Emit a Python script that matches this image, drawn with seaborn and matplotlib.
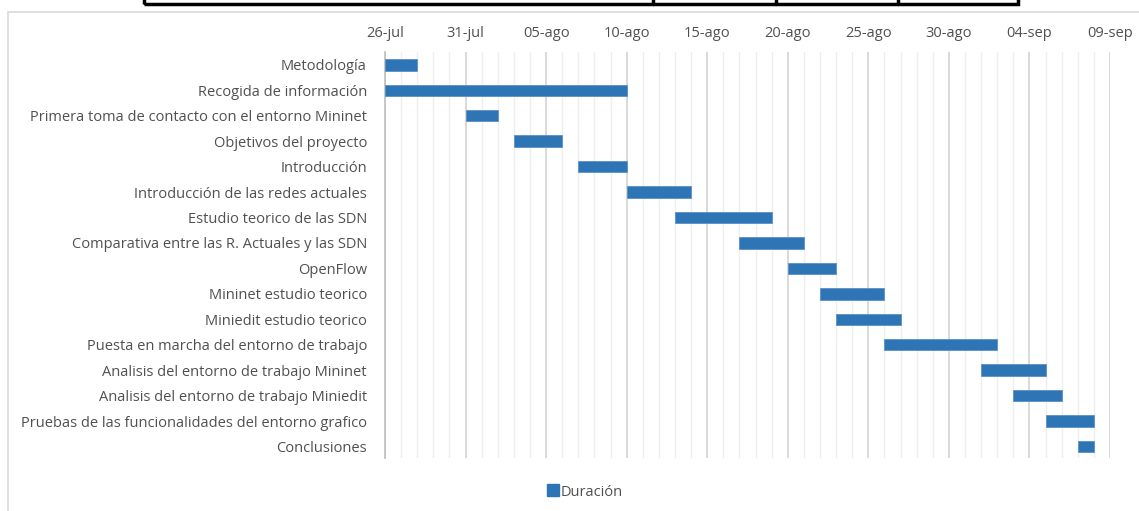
import datetime as dt
import matplotlib
matplotlib.use("Agg")
import matplotlib.pyplot as plt
import matplotlib.dates as mdates
from matplotlib.patches import Rectangle
from matplotlib.lines import Line2D
import pandas as pd
import seaborn as sns

# Project tasks, start dates and durations (days)
tasks = [
    "Metodología",
    "Recogida de información",
    "Primera toma de contacto con el entorno Mininet",
    "Objetivos del proyecto",
    "Introducción",
    "Introducción de las redes actuales",
    "Estudio teorico de las SDN",
    "Comparativa entre las R. Actuales y las SDN",
    "OpenFlow",
    "Mininet estudio teorico",
    "Miniedit estudio teorico",
    "Puesta en marcha del entorno de trabajo",
    "Analisis del entorno de trabajo Mininet",
    "Analisis del entorno de trabajo Miniedit",
    "Pruebas de las funcionalidades del entorno grafico",
    "Conclusiones",
]
start_dates = [
    "2016-07-26", "2016-07-26", "2016-07-31", "2016-08-03",
    "2016-08-07", "2016-08-10", "2016-08-13", "2016-08-17",
    "2016-08-20", "2016-08-22", "2016-08-23", "2016-08-26",
    "2016-09-01", "2016-09-03", "2016-09-05", "2016-09-07",
]
durations = [2, 15, 2, 3, 3, 4, 6, 4, 3, 4, 4, 7, 4, 3, 3, 1]

tick_dates = ["2016-07-26", "2016-07-31", "2016-08-05", "2016-08-10",
              "2016-08-15", "2016-08-20", "2016-08-25", "2016-08-30",
              "2016-09-04", "2016-09-09"]
tick_labels = ["26-jul", "31-jul", "05-ago", "10-ago", "15-ago",
               "20-ago", "25-ago", "30-ago", "04-sep", "09-sep"]
series_name = "Duración"

df = pd.DataFrame({"task": tasks,
                   "start": pd.to_datetime(start_dates),
                   "dur": durations})

sns.set_theme(style="white")
plt.rcParams["font.family"] = ["Open Sans", "DejaVu Sans"]

BAR = "#2e75b6"
TXT = "#505050"
FS = 10.5

fig = plt.figure(figsize=(11.39, 5.11), dpi=100)
ax = fig.add_axes([0.338, 0.1037, 0.6365, 0.7943])

ax.barh(df["task"], df["dur"], left=mdates.date2num(df["start"]),
        height=0.45, color=BAR, edgecolor="#5b8fc9", linewidth=0.6, zorder=3)

x0 = mdates.date2num(pd.Timestamp(tick_dates[0]))
x1 = mdates.date2num(pd.Timestamp(tick_dates[-1]))
ax.set_xlim(x0, x1)
ax.set_ylim(len(tasks) - 0.55, -0.5)

# daily minor grid, 5-day major grid
for d in range(int(x1 - x0) + 1):
    major = d % 5 == 0
    ax.axvline(x0 + d, color="#d9d9d9" if major else "#efefef",
               lw=1.4 if major else 1.0, zorder=1)

ax.set_xticks([mdates.date2num(pd.Timestamp(t)) for t in tick_dates])
ax.set_xticklabels(tick_labels)
ax.xaxis.tick_top()
ax.tick_params(axis="x", length=0, pad=8, labelsize=FS, labelcolor=TXT)
ax.tick_params(axis="y", length=0, pad=13, labelsize=FS, labelcolor=TXT)

for side in ["top", "right", "bottom"]:
    ax.spines[side].set_visible(False)
ax.spines["left"].set_color("#bfbfbf")
ax.spines["left"].set_linewidth(1.2)

handle = Line2D([], [], marker="s", ls="none", color=BAR, markersize=8)
fig.legend([handle], [series_name], loc="center", bbox_to_anchor=(585 / 1139, 1 - 492 / 511),
           frameon=False, handletextpad=0.1, fontsize=FS, labelcolor=TXT,
           handlelength=0.8)

# chart area border
fig.add_artist(Rectangle((8 / 1139, -0.02), 1.1, 1 - 12 / 511 + 0.02,
                         transform=fig.transFigure, fill=False,
                         edgecolor="#d9d9d9", lw=1.2))
# table frame above the chart
fig.add_artist(Rectangle((144 / 1139, 1 - 4 / 511), (1018 - 144) / 1139, 0.1,
                         transform=fig.transFigure, fill=False,
                         edgecolor="black", lw=2.5))
for xv in [653, 776, 898]:
    fig.add_artist(Line2D([xv / 1139, xv / 1139], [1 - 4 / 511, 1],
                          transform=fig.transFigure, color="black", lw=2.5))

fig.savefig("out.png", dpi=100)
